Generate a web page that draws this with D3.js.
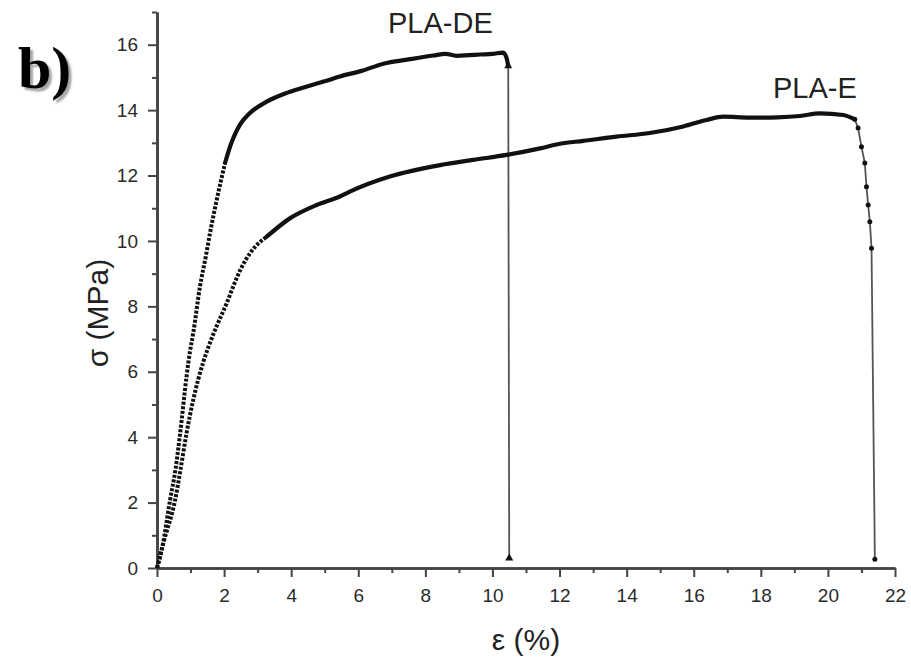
<!DOCTYPE html>
<html>
<head>
<meta charset="utf-8">
<script src="https://cdn.jsdelivr.net/npm/d3@7"></script>
<style>
  html, body { margin: 0; padding: 0; background: #fff; }
  svg { display: block; }
</style>
</head>
<body>
<svg id="chart" width="911" height="665"></svg>
<script>
// ---- data ----
const xMajorTicks = [0, 2, 4, 6, 8, 10, 12, 14, 16, 18, 20, 22];
const xMinorTicks = [1, 3, 5, 7, 9, 11, 13, 15, 17, 19, 21];
const yMajorTicks = [0, 2, 4, 6, 8, 10, 12, 14, 16];
const yMinorTicks = [1, 3, 5, 7, 9, 11, 13, 15, 17];

const seriesNames = ["PLA-DE", "PLA-E"];

// PLA-DE strain (%) / stress (MPa)
const deStrain = [0, 0.15, 0.39, 0.55, 0.69, 0.88, 0.98, 1.08, 1.28, 1.45, 1.58, 1.78, 2.03, 2.2, 2.32, 2.47, 2.77, 3.27, 3.8, 4.4, 5.0, 5.45, 6.1, 6.75, 7.5, 8.24, 8.6, 8.93, 9.3, 9.63, 10.0, 10.32, 10.42, 10.47, 10.5];
const deStress = [0, 0.6, 2.08, 3.0, 4.12, 5.85, 6.6, 7.18, 8.6, 9.5, 10.24, 11.25, 12.39, 12.95, 13.25, 13.55, 13.91, 14.26, 14.5, 14.7, 14.88, 15.03, 15.2, 15.42, 15.55, 15.67, 15.72, 15.66, 15.68, 15.7, 15.72, 15.76, 15.6, 15.35, 0.3];

// PLA-E strain (%) / stress (MPa)
const eStrain = [0, 0.2, 0.54, 0.7, 0.88, 1.08, 1.38, 1.53, 1.78, 2.08, 2.27, 2.5, 2.77, 3.27, 3.96, 4.76, 5.45, 5.75, 6.94, 8.44, 9.43, 10.42, 11.42, 12.01, 12.71, 13.7, 14.69, 15.69, 16.38, 16.88, 17.67, 18.5, 19.17, 19.76, 20.46, 20.8, 20.9, 21.0, 21.1, 21.15, 21.2, 21.25, 21.3, 21.4];
const eStress = [0, 0.8, 2.08, 3.0, 4.12, 5.14, 6.3, 6.75, 7.4, 8.1, 8.6, 9.15, 9.62, 10.13, 10.69, 11.1, 11.36, 11.51, 11.97, 12.32, 12.48, 12.63, 12.83, 12.97, 13.06, 13.19, 13.3, 13.5, 13.7, 13.8, 13.77, 13.78, 13.82, 13.9, 13.85, 13.72, 13.45, 12.88, 12.38, 11.66, 11.1, 10.59, 9.78, 0.27];

// ---- layout ----
const svg = d3.select("#chart");
const x = d3.scaleLinear().domain([0, 22]).range([157, 895]);
const y = d3.scaleLinear().domain([0, 17]).range([568, 12]);

const axisColor = "#444";
const fontFam = "'Liberation Sans', Arial, Helvetica, sans-serif";

// axes: minor ticks
const gxMinor = svg.append("g").attr("transform", "translate(0,568)")
  .call(d3.axisBottom(x).tickValues(xMinorTicks).tickSize(5).tickSizeOuter(0).tickFormat(""));
const gyMinor = svg.append("g").attr("transform", "translate(157,0)")
  .call(d3.axisLeft(y).tickValues(yMinorTicks).tickSize(5).tickSizeOuter(0).tickFormat(""));
// major ticks
const gx = svg.append("g").attr("transform", "translate(0,568)")
  .call(d3.axisBottom(x).tickValues(xMajorTicks).tickSize(9).tickSizeOuter(0).tickPadding(12).tickFormat(d3.format("d")));
const gy = svg.append("g").attr("transform", "translate(157,0)")
  .call(d3.axisLeft(y).tickValues(yMajorTicks).tickSize(9).tickSizeOuter(0).tickPadding(10).tickFormat(d3.format("d")));

[gxMinor, gyMinor, gx, gy].forEach(g => {
  g.select(".domain").attr("stroke", axisColor).attr("stroke-width", 2.6);
  g.selectAll(".tick line").attr("stroke", axisColor).attr("stroke-width", 2);
  g.selectAll(".tick text").attr("fill", "#2a2a2a").style("font-family", fontFam).style("font-size", "19px");
});

// ---- curves ----
const line = d3.line().x(d => x(d[0])).y(d => y(d[1]));
const smooth = d3.line().x(d => x(d[0])).y(d => y(d[1])).curve(d3.curveMonotoneX);

function drawSeries(strain, stress, rampEnd, kneeStart, marker) {
  const pts = strain.map((v, i) => [v, stress[i]]);
  const last = pts.length - 1;
  // thin connecting line for the failure part
  svg.append("path").attr("d", line(pts.slice(kneeStart))).attr("fill", "none")
    .attr("stroke", "#555").attr("stroke-width", 1.8);
  // steep initial ramp: dotted look of dense markers
  svg.append("path").attr("d", smooth(pts.slice(0, rampEnd + 1))).attr("fill", "none")
    .attr("stroke", "#111").attr("stroke-width", 4).attr("stroke-dasharray", "3,1.6");
  // dense plateau: solid heavy line
  svg.append("path").attr("d", smooth(pts.slice(rampEnd, kneeStart + 1))).attr("fill", "none")
    .attr("stroke", "#111").attr("stroke-width", 4.2).attr("stroke-linejoin", "round").attr("stroke-linecap", "round");
  // failure: sparse markers
  const fail = pts.slice(kneeStart, last + 1);
  if (marker === "tri") {
    svg.selectAll(null).data(fail).enter().append("path")
      .attr("d", d3.symbol().type(d3.symbolTriangle).size(28))
      .attr("transform", d => `translate(${x(d[0])},${y(d[1])})`).attr("fill", "#111");
  } else {
    svg.selectAll(null).data(fail).enter().append("circle")
      .attr("cx", d => x(d[0])).attr("cy", d => y(d[1])).attr("r", 2.5).attr("fill", "#111");
  }
}

drawSeries(deStrain, deStress, 12, deStrain.length - 2, "tri");
drawSeries(eStrain, eStress, 13, 35, "dot");

// ---- labels ----
svg.append("text").attr("x", 388).attr("y", 33).text(seriesNames[0])
  .style("font-family", fontFam).style("font-size", "29px").attr("fill", "#222");
svg.append("text").attr("x", 773).attr("y", 98).text(seriesNames[1])
  .style("font-family", fontFam).style("font-size", "29px").attr("fill", "#222");

svg.append("text").attr("x", 526).attr("y", 650).attr("text-anchor", "middle").text("ε (%)")
  .style("font-family", fontFam).style("font-size", "30px").attr("fill", "#222");
svg.append("text").attr("transform", "translate(108,313) rotate(-90)").attr("text-anchor", "middle").text("σ (MPa)")
  .style("font-family", fontFam).style("font-size", "30px").attr("fill", "#222");

// panel letter with soft shadow
svg.append("text").attr("x", 18).attr("y", 88).text("b)")
  .style("font-family", "'Liberation Serif', 'Times New Roman', serif").style("font-weight", "bold")
  .style("font-size", "60px").attr("fill", "#000")
  .style("text-shadow", "3px 3px 2px rgba(0,0,0,0.35)");
</script>
</body>
</html>
